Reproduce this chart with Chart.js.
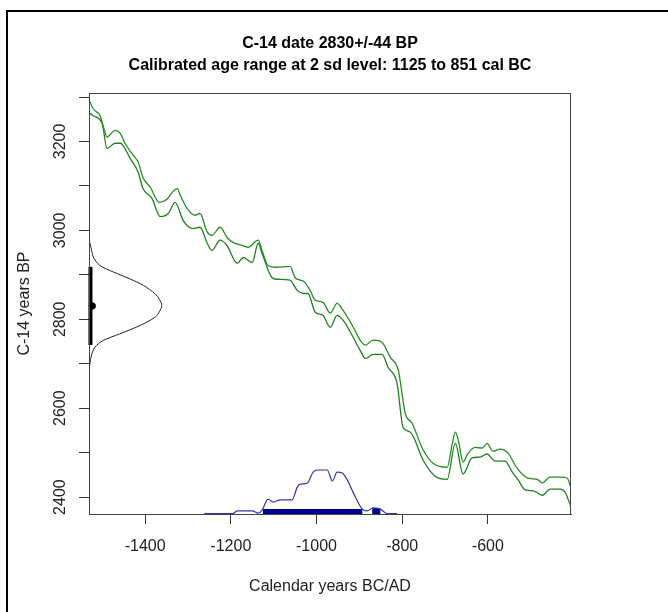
<!DOCTYPE html>
<html>
<head>
<meta charset="utf-8">
<script src="https://cdn.jsdelivr.net/npm/chart.js@4/dist/chart.umd.min.js"></script>
<style>
    body { margin: 0; background: #fff; }
    #wrap { width: 668px; height: 612px; }
</style>
</head>
<body>
<div id="wrap"><canvas id="calib-chart" width="668" height="612"></canvas></div>
<script>
// Limites dos eixos
const xMin = -1531, xMax = -406;
const yMin = 2362, yMax = 3309;

// Curva de calibração - linha superior
const upperYears = [-1531,-1521,-1505,-1497,-1489,-1470,-1458,-1447,-1428,-1416,-1405,-1388,-1367,-1349,-1337,-1325,-1318,-1302,-1283,-1272,-1255,-1244,-1225,-1209,-1195,-1174,-1160,-1136,-1127,-1113,-1092,-1062,-1050,-1038,-1027,-1015,-1003,-985,-968,-952,-938,-914,-898,-886,-868,-847,-828,-809,-793,-777,-751,-728,-695,-683,-676,-669,-658,-646,-630,-613,-602,-588,-571,-553,-532,-508,-485,-473,-455,-431,-415,-406];
const upperBP = [3294,3273,3258,3232,3210,3225,3218,3196,3169,3153,3119,3097,3063,3070,3085,3094,3079,3049,3034,3038,2996,2989,3007,2984,2973,2966,2962,2978,2955,2921,2917,2919,2894,2888,2883,2865,2843,2838,2814,2836,2820,2782,2753,2742,2753,2748,2715,2685,2589,2566,2506,2476,2467,2521,2546,2528,2479,2499,2512,2510,2521,2503,2508,2499,2465,2443,2440,2432,2445,2445,2443,2420];

// Curva de calibração - linha inferior
const lowerYears = [-1531,-1521,-1500,-1489,-1470,-1458,-1435,-1416,-1405,-1384,-1365,-1346,-1330,-1311,-1288,-1272,-1255,-1244,-1225,-1209,-1185,-1171,-1150,-1136,-1127,-1104,-1092,-1062,-1045,-1031,-1020,-1003,-985,-968,-952,-938,-917,-898,-886,-868,-847,-833,-812,-798,-781,-751,-723,-695,-676,-658,-637,-618,-602,-583,-560,-543,-529,-513,-494,-473,-455,-431,-420,-406];
const lowerBP = [3265,3258,3240,3184,3196,3196,3162,3130,3094,3072,3031,3038,3063,3022,3004,3007,2971,2955,2978,2966,2926,2939,2928,2971,2948,2894,2890,2888,2865,2858,2858,2816,2809,2782,2809,2798,2764,2730,2712,2721,2721,2692,2656,2557,2546,2483,2447,2440,2521,2452,2488,2490,2497,2481,2481,2456,2438,2416,2414,2404,2418,2418,2411,2378];

// Distribuição calibrada (densidade relativa)
const calYears = [-1262,-1195,-1185,-1171,-1150,-1136,-1127,-1113,-1101,-1085,-1057,-1045,-1038,-1022,-1008,-998,-975,-963,-952,-940,-928,-914,-893,-882,-868,-851,-835,-812];
const calProb = [0.01,0.01,0.07,0.07,0.07,0.02,0.09,0.34,0.27,0.32,0.32,0.61,0.68,0.70,0.95,1.0,1.0,0.75,0.95,0.93,0.77,0.48,0.11,0.07,0.14,0.11,0.01,0.01];

// Intervalos de 2 sd (cal BC)
const rangeStart = [-1125, -870];
const rangeEnd = [-893, -851];

// Data C-14 (curva normal no eixo y)
const gaussBP = [2980,2960,2940,2921,2906,2891,2876,2857,2844,2831,2818,2805,2786,2767,2752,2737,2720,2700,2685];
const gaussDens = [0,0.03,0.06,0.15,0.34,0.56,0.75,0.91,0.97,1.0,0.97,0.91,0.70,0.42,0.19,0.08,0.035,0.012,0];
const c14Date = 2830;
const c14Range = [2742, 2918];

const xTicks = [-1400, -1200, -1000, -800, -600];

const fontFamily = '"Liberation Sans", Arial, sans-serif';
const textColor = '#222';

const toPoints = (xs, ys) => xs.map((x, i) => ({ x: x, y: ys[i] }));

// Plugin: moldura externa, caixa do gráfico e rótulos do eixo y (rotacionados, estilo R)
const framePlugin = {
    id: 'frame',
    beforeDraw(chart) {
        const ctx = chart.ctx;
        ctx.save();
        ctx.strokeStyle = '#000';
        ctx.lineWidth = 2;
        ctx.beginPath();
        ctx.moveTo(7, 612);
        ctx.lineTo(7, 11);
        ctx.lineTo(668, 11);
        ctx.stroke();
        ctx.restore();
    },
    afterDraw(chart) {
        const { ctx, chartArea } = chart;
        ctx.save();
        ctx.strokeStyle = '#444';
        ctx.lineWidth = 1;
        ctx.strokeRect(chartArea.left + 0.5, chartArea.top + 0.5,
            chartArea.right - chartArea.left - 1, chartArea.bottom - chartArea.top);

        const yScale = chart.scales.y;
        ctx.fillStyle = textColor;
        ctx.font = '16px ' + fontFamily;
        ctx.textAlign = 'center';
        ctx.textBaseline = 'middle';
        yScale.ticks.forEach(t => {
            if (t.value % 200 !== 0) return;
            const py = yScale.getPixelForValue(t.value);
            ctx.save();
            ctx.translate(61, py);
            ctx.rotate(-Math.PI / 2);
            ctx.fillText(String(t.value), 0, 0);
            ctx.restore();
        });
        ctx.restore();
    }
};

function renderChart() {
    const ctx = document.getElementById('calib-chart').getContext('2d');

    const datasets = [
        {
            label: 'upper',
            data: toPoints(upperYears, upperBP),
            borderColor: '#2a8a2a',
            borderWidth: 1.3,
            cubicInterpolationMode: 'monotone',
            xAxisID: 'x', yAxisID: 'y'
        },
        {
            label: 'lower',
            data: toPoints(lowerYears, lowerBP),
            borderColor: '#1f7f1f',
            borderWidth: 1.3,
            cubicInterpolationMode: 'monotone',
            xAxisID: 'x', yAxisID: 'y'
        },
        {
            label: 'calibrated',
            data: toPoints(calYears, calProb),
            borderColor: '#3333a8',
            borderWidth: 1.2,
            cubicInterpolationMode: 'monotone',
            xAxisID: 'x', yAxisID: 'yp',
            clip: false
        },
        {
            label: 'gauss',
            data: gaussBP.map((bp, i) => ({ x: gaussDens[i], y: bp })),
            borderColor: '#222',
            borderWidth: 1,
            tension: 0.3,
            xAxisID: 'xd', yAxisID: 'y'
        },
        {
            label: 'sd',
            data: [{ x: 0.02, y: c14Range[0] }, { x: 0.02, y: c14Range[1] }],
            borderColor: '#000',
            borderWidth: 4,
            xAxisID: 'xd', yAxisID: 'y',
            clip: false
        },
        {
            label: 'date',
            data: [{ x: 0.045, y: c14Date }],
            showLine: false,
            pointRadius: 3.2,
            backgroundColor: '#000',
            borderColor: '#000',
            xAxisID: 'xd', yAxisID: 'y',
            clip: false
        }
    ];

    rangeStart.forEach((s, i) => {
        datasets.push({
            label: 'range' + i,
            data: [{ x: s, y: i === 0 ? 0.055 : 0.065 }, { x: rangeEnd[i], y: i === 0 ? 0.055 : 0.065 }],
            borderColor: '#00008b',
            borderWidth: i === 0 ? 5 : 6,
            borderCapStyle: 'butt',
            xAxisID: 'x', yAxisID: 'yp',
            clip: false
        });
    });

    new Chart(ctx, {
        type: 'scatter',
        data: { datasets: datasets },
        options: {
            responsive: false,
            animation: false,
            showLine: true,
            elements: { point: { radius: 0 }, line: { fill: false } },
            layout: { padding: { left: 0, right: 97, top: 0, bottom: 0 } },
            plugins: {
                legend: { display: false },
                tooltip: { enabled: false },
                title: {
                    display: true,
                    fullSize: false,
                    text: ['C-14 date 2830+/-44 BP', 'Calibrated age range at 2 sd level: 1125 to 851 cal BC'],
                    color: '#000',
                    font: { family: fontFamily, size: 16, weight: 'bold', lineHeight: '22px' },
                    padding: { top: 33, bottom: 16 }
                }
            },
            scales: {
                x: {
                    type: 'linear',
                    position: 'bottom',
                    min: xMin,
                    max: xMax,
                    afterBuildTicks: s => { s.ticks = xTicks.map(v => ({ value: v })); },
                    ticks: {
                        callback: v => String(v),
                        color: textColor,
                        font: { family: fontFamily, size: 16 },
                        padding: 13,
                        maxRotation: 0
                    },
                    grid: { drawOnChartArea: false, tickLength: 10, color: '#333' },
                    border: { color: '#444' },
                    title: {
                        display: true,
                        text: 'Calendar years BC/AD',
                        color: textColor,
                        font: { family: fontFamily, size: 16 },
                        padding: { top: 0, bottom: 16 }
                    },
                    afterFit: s => { s.height = 98; }
                },
                y: {
                    type: 'linear',
                    position: 'left',
                    min: yMin,
                    max: yMax,
                    ticks: {
                        stepSize: 100,
                        includeBounds: false,
                        color: 'rgba(0,0,0,0)',
                        font: { family: fontFamily, size: 16 }
                    },
                    grid: { drawOnChartArea: false, tickLength: 10, color: '#333' },
                    border: { color: '#444' },
                    title: {
                        display: true,
                        text: 'C-14 years BP',
                        color: textColor,
                        font: { family: fontFamily, size: 16 },
                        padding: { top: 15, bottom: 0 }
                    },
                    afterFit: s => { s.width = 89; }
                },
                yp: { type: 'linear', display: false, min: 0, max: 9.57 },
                xd: { type: 'linear', axis: 'x', display: false, min: 0, max: 6.62 }
            }
        },
        plugins: [framePlugin]
    });
}

renderChart();
</script>
</body>
</html>
